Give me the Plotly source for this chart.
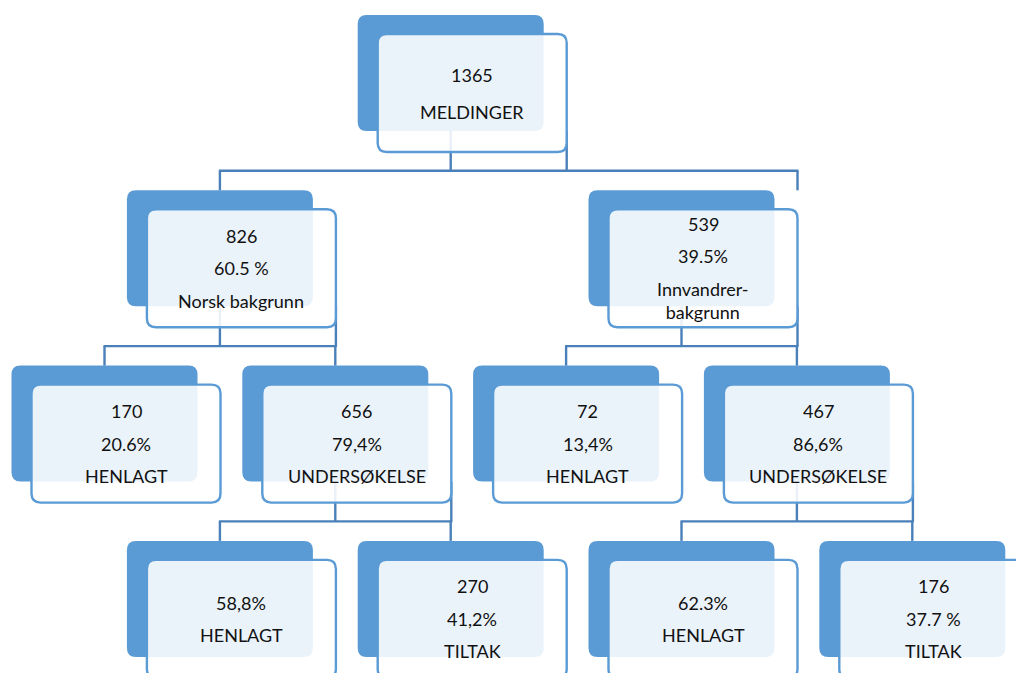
import plotly.graph_objects as go

# node data (tree order)
COUNTS = ["1365", "826", "539", "170", "656", "72", "467", "", "270", "", "176"]
SHARES = ["", "60.5 %", "39.5%", "20.6%", "79,4%", "13,4%", "86,6%", "58,8%", "41,2%", "62.3%", "37.7 %"]
LABELS = ["MELDINGER", "Norsk bakgrunn", "Innvandrer-<br>bakgrunn", "HENLAGT", "UNDERSØKELSE",
          "HENLAGT", "UNDERSØKELSE", "HENLAGT", "TILTAK", "HENLAGT", "TILTAK"]
PARENTS = [None, 0, 0, 1, 1, 2, 2, 4, 4, 6, 6]
LEVELS = [0, 1, 1, 2, 2, 2, 2, 3, 3, 3, 3]
SLOTS = [1.5, 0.5, 2.5, 0, 1, 2, 3, 0.5, 1.5, 2.5, 3.5]
JOIN_RIGHT = [2]  # nodes whose connector drops at the right edge of the front box

# geometry / style
W, H = 1016, 673
X0, SLOT_W = 104.5, 230.8
Y0, LEVEL_H = 15, 175.3
BACK_W, BACK_H = 186, 116
DX, DY = 20, 19
FRONT_W, FRONT_H = 189, 118
RADIUS = 9
DARK = '#5B9BD5'
LINE = '#4A80BA'
GAP = [37, 32.5, 32.5, 32.5]
FONT = dict(family='Lato, Noto Sans, sans-serif', size=18, color='#111111')


def rrect(x0, y0, x1, y1, r):
    return (f'M {x0 + r},{y0} L {x1 - r},{y0} Q {x1},{y0} {x1},{y0 + r} '
            f'L {x1},{y1 - r} Q {x1},{y1} {x1 - r},{y1} L {x0 + r},{y1} '
            f'Q {x0},{y1} {x0},{y1 - r} L {x0},{y0 + r} Q {x0},{y0} {x0 + r},{y0} Z')


def back_box(i):
    cx = X0 + SLOTS[i] * SLOT_W
    top = Y0 + LEVELS[i] * LEVEL_H
    return cx - BACK_W / 2, top, cx + BACK_W / 2, top + BACK_H


def front_box(i):
    bx0, by0, _, _ = back_box(i)
    return bx0 + DX, by0 + DY, bx0 + DX + FRONT_W, by0 + DY + FRONT_H


fig = go.Figure()
shapes = []

# back (dark) boxes
for i in range(len(COUNTS)):
    x0, y0, x1, y1 = back_box(i)
    shapes.append(dict(type='path', path=rrect(x0, y0, x1, y1, RADIUS), xref='x', yref='y',
                       fillcolor=DARK, line_width=0, layer='above'))

# connectors
for p in sorted(set(q for q in PARENTS if q is not None)):
    kids = [i for i, q in enumerate(PARENTS) if q == p]
    bx0, by0, bx1, by1 = back_box(p)
    fx1 = front_box(p)[2]
    kid_top = back_box(kids[0])[1]
    mid = kid_top - 19.5
    xs = [(bx0 + bx1) / 2, fx1]
    for x in xs:
        shapes.append(dict(type='line', x0=x, x1=x, y0=by1, y1=mid, xref='x', yref='y',
                           line=dict(color=LINE, width=2.4), layer='above'))
    for k in kids:
        kb = back_box(k)
        kx = front_box(k)[2] if k in JOIN_RIGHT else (kb[0] + kb[2]) / 2
        xs.append(kx)
        shapes.append(dict(type='line', x0=kx, x1=kx, y0=mid, y1=kid_top, xref='x', yref='y',
                           line=dict(color=LINE, width=2.4), layer='above'))
    shapes.append(dict(type='line', x0=min(xs) - 1, x1=max(xs) + 1, y0=mid, y1=mid, xref='x', yref='y',
                       line=dict(color=LINE, width=2.4), layer='above'))

# front (translucent) boxes
for i in range(len(COUNTS)):
    x0, y0, x1, y1 = front_box(i)
    shapes.append(dict(type='path', path=rrect(x0, y0, x1, y1, RADIUS), xref='x', yref='y',
                       fillcolor='rgba(255,255,255,0.88)', line=dict(color=DARK, width=2.4), layer='above'))

# texts
annotations = []
for i in range(len(COUNTS)):
    x0, y0, x1, y1 = front_box(i)
    paras = [t for t in (COUNTS[i], SHARES[i], LABELS[i]) if t]
    gap = GAP[LEVELS[i]]
    heights = [gap + 24 * t.count('<br>') for t in paras]
    y = y0 + 59 - sum(heights) / 2
    for t, h in zip(paras, heights):
        annotations.append(dict(x=(x0 + x1) / 2, y=y + h / 2, text=t, showarrow=False, xref='x', yref='y',
                                xanchor='center', yanchor='middle', align='center', font=FONT))
        y += h

fig.update_layout(
    shapes=shapes,
    annotations=annotations,
    width=W, height=H,
    margin=dict(l=0, r=0, t=0, b=0),
    paper_bgcolor='white', plot_bgcolor='white',
    xaxis=dict(range=[0, W], visible=False, fixedrange=True),
    yaxis=dict(range=[H, 0], visible=False, fixedrange=True),
    showlegend=False,
)

fig.write_html('out.html', config={'displayModeBar': False},
               post_script=["document.body.style.margin = '0';"])
